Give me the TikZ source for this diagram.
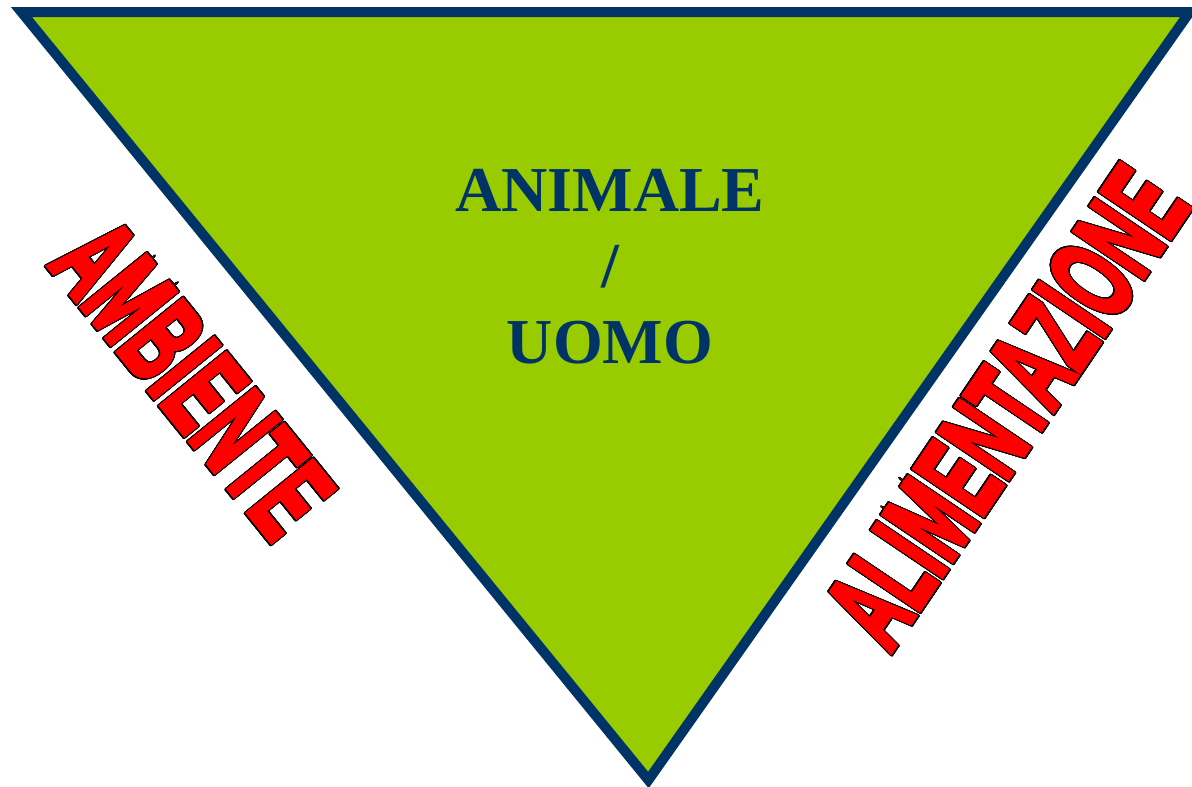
\documentclass[tikz,border=0pt]{standalone}
\usepackage{fontspec}
\usepackage{graphicx}
\usepackage{contour}
\setmainfont{Liberation Serif}
\newfontfamily\artfont{Liberation Sans Bold}[FakeBold=4]
\definecolor{trigreen}{HTML}{99CC00}
\definecolor{triblue}{HTML}{003366}
\contourlength{1.6pt}
\contournumber{32}

\begin{document}
\begin{tikzpicture}[x=1pt, y=-1pt,
  tri/.style={draw=triblue, fill=trigreen, line width=10pt, line join=miter},
  title/.style={font=\fontsize{64}{76}\selectfont\bfseries, text=triblue,
                align=center, inner sep=0pt},
  wordart/.style={font=\artfont\fontsize{120}{120}\selectfont,
                  text=red, inner sep=0pt},
]
\useasboundingbox (0,0) rectangle (1192,787);

%% Triangle
\coordinate (tl) at (21.4,12);
\coordinate (tr) at (1189.7,12);
\coordinate (bt) at (648.4,780);
\draw[tri] (tl) -- (tr) -- (bt) -- cycle;

\node[title] (centre) at (610,267) {ANIMALE\\/\\UOMO};

%% Side labels
\node[wordart, rotate=-51] (amb) at (192,379)
  {\scalebox{0.575}[1]{\contour{black}{AMBIENTE}}};
\node[wordart, rotate=56] (alim) at (1007,407)
  {\scalebox{0.553}[1]{\contour{black}{ALIMENTAZIONE}}};

\end{tikzpicture}
\end{document}
